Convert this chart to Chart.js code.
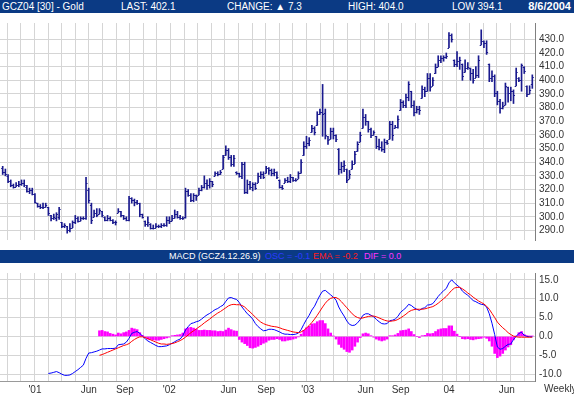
<!DOCTYPE html>
<html>
<head>
<meta charset="utf-8">
<script src="https://cdn.jsdelivr.net/npm/chart.js@4.4.1/dist/chart.umd.min.js"></script>
<style>
  body { margin: 0; background: #fff; font-family: "Liberation Sans", Arial, sans-serif; }
  #wrap { position: relative; width: 574px; height: 396px; overflow: hidden; background: #fff; }
  .bar { position: absolute; left: 0; width: 574px; height: 13px; background: #0b3a84; color: #fff; font-size: 10px; line-height: 13px; }
  .bar span { position: absolute; top: 0; white-space: nowrap; }
  .small { font-size: 9px; }
  canvas { position: absolute; left: 0; }
  #weekly { position: absolute; left: 544px; top: 383px; font-size: 10px; line-height: 12px; color: #333; }
</style>
</head>
<body>
<div id="wrap">
  <div class="bar" style="top:0">
    <span style="left:2px">GCZ04 [30] - Gold</span>
    <span style="left:121px">LAST: 402.1</span>
    <span style="left:227px">CHANGE: ▲ 7.3</span>
    <span style="left:348px">HIGH: 404.0</span>
    <span style="left:452px">LOW 394.1</span>
    <span style="right:3px; font-weight:bold; font-size:11px">8/6/2004</span>
  </div>
  <canvas id="priceChart" width="574" height="237" style="top:13px"></canvas>
  <div class="bar small" style="top:250px">
    <span style="left:169px">MACD (GCZ4.12.26.9)</span>
    <span style="left:265px; color:#2b3bff">OSC = -0.1</span>
    <span style="left:313px; color:#ff1a1a">EMA = -0.2</span>
    <span style="left:364px; color:#ff33ff">DIF = 0.0</span>
  </div>
  <canvas id="macdChart" width="574" height="133" style="top:263px"></canvas>
  <div id="weekly">Weekly</div>
</div>
<script>
// weekly bars, Oct 2000 .. 8/6/2004
var opens = [
  336,333,330,326,323,322,323,324,325,322, 319,320,317,310,308,307,307,307,301,299,
  299,300,296,293,293,290,292,296,299,297, 299,299,320,309,300,303,302,304,300,298,
  299,298,296,303,304,301,299,298,314,312, 311,310,302,297,295,295,292,292,293,293,
  294,294,298,297,299,302,300,299,300,319, 316,312,316,316,320,322,325,323,326,330,
  332,331,335,345,349,344,339,333,332,330, 339,318,324,322,324,325,330,331,332,336,
  334,332,333,327,322,325,327,326,329,327, 328,332,345,352,354,362,365,367,375,377,
  376,359,357,363,360,350,335,337,335,328, 335,339,348,355,365,373,370,364,360,359,
  352,351,350,355,357,368,365,366,378,384, 382,388,392,382,377,379,387,394,392,402,
  396,405,410,415,416,417,424,433,415,412, 414,412,406,409,409,405,402,404,426,429,
  427,412,402,403,391,385,380,382,395,391, 392,396,402,400,410,396,390,397
];
var highs = [
  337,335,331,327,324,325,326,327,327,323, 321,321,317,310,309,310,310,307,301,302,
  303,307,296,295,293,295,297,301,300,300, 300,329,321,310,305,306,306,304,300,301,
  300,298,297,306,304,301,300,315,314,313, 312,310,302,297,300,295,294,295,294,295,
  295,300,300,301,305,304,301,300,321,320, 317,317,316,321,323,330,327,328,326,333,
  333,334,345,352,350,345,345,333,332,340, 340,327,326,325,325,332,333,333,337,336,
  335,335,333,327,323,328,329,331,329,328, 333,342,355,359,358,367,366,377,379,397,
  379,359,365,365,360,350,340,341,335,334, 341,348,355,362,379,375,370,365,363,359,
  357,355,357,356,370,370,367,374,386,385, 390,399,392,385,381,381,396,395,405,405,
  402,412,418,418,418,420,435,434,415,421, 417,412,415,413,409,408,410,418,437,429,
  429,412,407,404,392,386,384,398,395,395, 393,409,402,412,410,396,396,404
];
var lows = [
  331,330,325,322,321,322,322,323,322,318, 317,316,310,307,306,306,307,301,297,298,
  297,298,292,292,288,289,292,295,296,297, 298,298,310,295,300,300,302,300,297,297,
  297,295,294,303,300,298,297,297,310,308, 309,300,299,293,293,291,291,292,292,292,
  293,293,295,297,299,299,298,298,299,315, 311,311,312,316,319,321,320,321,322,330,
  330,331,335,345,342,337,337,331,329,328, 317,317,320,319,320,325,328,328,332,331,
  330,330,328,321,320,325,325,325,326,326, 328,332,345,350,352,362,360,367,375,359,
  357,353,357,357,355,331,332,333,325,328, 335,339,348,355,365,367,362,358,360,350,
  349,348,347,353,357,356,365,365,378,380, 380,385,380,374,376,375,387,388,392,392,
  396,405,410,413,414,416,424,428,410,410, 408,400,406,408,400,398,402,402,426,424,
  419,399,399,388,382,376,379,382,384,385, 383,396,399,392,405,388,390,394.1
];
var closes = [
  333,331,326,323,322,323,324,325,323,319, 320,317,311,308,307,307,309,303,299,300,
  302,306,293,294,290,292,296,299,297,299, 299,325,312,298,303,301,305,301,298,299,
  298,296,296,304,301,299,298,314,312,311, 310,302,300,295,296,292,292,293,293,294,
  294,298,297,299,302,300,299,299,319,316, 312,316,315,320,322,325,323,326,324,332,
  331,333,344,349,344,339,343,332,330,339, 318,324,322,324,321,330,331,329,336,334,
  332,333,329,322,321,327,326,329,327,327, 332,340,352,354,356,365,362,375,377,375,
  360,356,363,360,357,335,337,338,327,331, 339,346,353,360,373,370,364,360,362,352,
  351,350,355,354,368,360,366,372,384,382, 388,397,382,377,379,378,394,392,402,395,
  400,410,415,416,417,418,433,430,412,414, 415,403,409,410,405,400,404,415,429,427,
  421,402,403,391,385,380,381,396,391,392, 389,406,400,411,407,390,393,402.1
];

// MACD (12,26,9)
var macdStart = 17;
var macdLine = [
  -9.8,-9.7,-9.5,-9.3,-9.6,-10.0,-10.3,-10.3,-10.2,-9.8, -9.3,-8.8,-8.2,-7.6,-5.8,-4.4,-4.3,-4.1,-3.9,-3.6,
  -3.3,-3.3,-3.2,-3.2,-3.2,-3.1,-2.2,-2.1,-2.0,-1.5, -0.5,0.8,1.1,1.3,0.8,0.1,-0.6,-1.2,-1.6,-2.0,
  -2.4,-2.7,-2.7,-2.6,-2.5,-2.2,-1.8,-1.4,-1.0,-0.7, 0.2,1.7,2.6,3.4,3.6,3.9,4.1,4.6,5.2,5.7,
  6.1,6.6,7.1,7.4,7.9,8.3,9.3,10.2,10.3,10.0, 9.8,9.0,7.8,6.9,6.0,5.4,4.6,3.4,2.6,2.0,
  1.5,1.6,1.9,1.9,1.8,1.5,1.2,0.8,0.6,0.6, 0.5,0.5,0.6,0.9,1.8,3.2,4.5,5.6,7.0,8.0,
  9.5,10.9,12.0,12.2,11.6,11.0,10.4,9.6,7.8,6.5, 5.4,4.1,3.2,2.9,3.0,3.6,4.5,5.6,6.0,6.0,
  5.6,5.2,4.5,3.9,3.4,3.3,3.4,4.2,4.3,4.6, 5.3,6.4,7.0,7.6,8.5,8.2,7.6,7.2,6.9,7.4,
  7.6,8.3,8.4,8.7,9.6,10.6,11.4,12.1,12.7,14.2, 15.0,14.2,13.6,13.0,12.0,11.4,10.9,10.2,9.5,9.2,
  8.8,8.5,8.4,7.8,6.0,3.5,0.5,-2.8,-3.4,-3.2, -2.6,-2.1,-2.0,-0.8,0.0,0.8,1.1,0.3,0.0,-0.1,
  -0.1
];
var signalStart = 36;
var signalLine = [
  -5.0,-4.8,-4.5,-4.2,-3.9,-3.6,-3.3,-3.0,-2.7,-2.4, -2.2,-1.9,-1.3,-0.8,-0.4,-0.1,-0.1,-0.3,-0.6,-0.9,
  -1.2,-1.5,-1.8,-2.0,-2.0,-2.1,-2.0,-1.9,-1.7,-1.4, -1.1,-0.7,-0.2,0.4,1.0,1.5,2.0,2.5,3.0,3.6,
  4.1,4.6,5.2,5.7,6.2,6.6,7.1,7.6,8.1,8.4, 8.5,8.4,8.4,8.2,7.8,7.1,6.5,5.8,5.1,4.4,
  3.8,3.4,3.1,2.9,2.7,2.6,2.5,2.3,2.0,1.8, 1.6,1.4,1.2,1.1,1.0,1.2,1.6,2.2,2.9,3.7,
  4.6,5.6,6.7,7.8,8.8,9.6,10.1,10.3,10.3,9.9, 9.2,8.4,7.6,6.8,6.0,5.4,5.0,4.8,4.9,5.1,
  5.3,5.4,5.4,5.2,4.9,4.6,4.3,4.1,4.0,4.1, 4.2,4.5,4.9,5.4,5.9,6.5,6.9,7.1,7.2,7.2,
  7.2,7.3,7.5,7.7,7.9,8.3,8.8,9.4,10.0,10.6, 11.4,12.2,12.8,13.0,13.0,12.6,12.1,11.5,11.0,10.4,
  9.9,9.4,9.0,8.6,8.0,7.2,6.1,5.0,3.8,3.0, 2.3,1.7,1.0,0.5,0.1,-0.1,-0.2,-0.2,-0.2,-0.2,
  -0.2,-0.2
];
var histogram = [
  1.5,1.6,1.3,1.2,0.8,0.6,0.4,0.9,0.7,1.0, 1.2,1.6,2.2,2.0,1.8,1.0,0.3,-0.3,-0.7,-0.8,
  -0.9,-1.0,-1.0,-0.8,-0.6,-0.4,-0.2,0.2,0.3,0.4, 0.5,0.9,2.0,2.3,2.4,2.2,1.9,1.6,1.6,1.7,
  1.6,1.6,1.5,1.5,1.3,1.4,1.3,1.7,2.2,1.8, 1.5,1.4,-0.8,-1.5,-1.9,-2.4,-3.0,-3.1,-2.9,-2.6,
  -2.2,-1.8,-1.5,-1.0,-0.8,-0.8,-0.6,-0.8,-1.2,-1.2, -1.0,-0.9,-0.7,-0.5,-0.1,0.6,1.6,2.3,2.7,3.3,
  3.4,3.9,4.2,4.2,3.4,2.0,0.9,0.1,-0.7,-2.1, -2.9,-3.4,-4.0,-4.2,-3.6,-2.6,-1.5,-0.3,0.7,0.9,
  0.7,0.2,-0.2,-0.7,-1.0,-1.2,-1.0,-0.7,0.2,0.2, 0.4,0.8,1.5,1.6,1.7,2.0,1.3,0.5,0.0,-0.3,
  0.2,0.3,0.8,0.7,0.8,1.3,1.8,2.0,2.1,2.1, 2.8,2.8,1.4,0.6,0.0,-0.6,-0.7,-0.6,-0.8,-0.9,
  -0.7,-0.6,-0.5,-0.2,-0.5,-1.2,-2.6,-4.5,-5.6,-5.2, -4.5,-3.6,-2.8,-2.2,-0.9,0.1,1.0,1.3,0.5,0.2,
  0.1,0.1
];

var priceTicks = [290, 300, 310, 320, 330, 340, 350, 360, 370, 380, 390, 400, 410, 420, 430];
var macdTicks = [-10, -5, 0, 5, 10, 15];
var monthLabels = ["'01", 'Jun', 'Sep', "'02", 'Jun', 'Sep', "'03", 'Jun', 'Sep', '04', 'Jun'];
var monthWeeks = [12, 32, 45.5, 62, 84, 98, 113.5, 135, 148, 166, 187.5];

Chart.defaults.font.family = '"Liberation Sans", Arial, sans-serif';
Chart.defaults.font.size = 10;
Chart.defaults.color = '#333';

var gridColor = '#d5d5d5';
var barColor = '#1a1a8e';
var nBars = closes.length;

function gridTicks(scale) {
    var t = [];
    for (var v = 1.7; v < nBars; v += 5.06) t.push({ value: v });
    scale.ticks = t;
}

function xGrid() {
    return {
        type: 'linear',
        min: -1,
        max: nBars,
        offset: false,
        grid: { color: gridColor, drawTicks: false, offset: false },
        border: { display: false },
        ticks: { display: false },
        afterBuildTicks: gridTicks,
        afterFit: function (s) { s.height = 0; }
    };
}

// open/close ticks on the high-low bars
var ohlcTicks = {
    id: 'ohlcTicks',
    afterDatasetsDraw: function (chart) {
        var ctx = chart.ctx, x = chart.scales.x, y = chart.scales.y;
        ctx.save();
        ctx.strokeStyle = barColor;
        ctx.lineWidth = 1;
        ctx.beginPath();
        for (var i = 0; i < nBars; i++) {
            var px = x.getPixelForValue(i);
            var po = Math.round(y.getPixelForValue(opens[i])) + 0.5;
            var pc = Math.round(y.getPixelForValue(closes[i])) + 0.5;
            ctx.moveTo(px - 1.5, po); ctx.lineTo(px, po);
            ctx.moveTo(px, pc); ctx.lineTo(px + 1.5, pc);
        }
        ctx.stroke();
        ctx.restore();
    }
};

new Chart(document.getElementById('priceChart'), {
    type: 'bar',
    data: {
        datasets: [{
            data: highs.map(function (h, i) { return { x: i, y: [lows[i], h] }; }),
            backgroundColor: barColor,
            barThickness: 1,
            grouped: false
        }]
    },
    options: {
        responsive: false,
        animation: false,
        events: [],
        layout: { padding: 0 },
        plugins: { legend: { display: false }, tooltip: { enabled: false } },
        scales: {
            x: xGrid(),
            y: {
                position: 'right',
                min: 283,
                max: 442,
                afterBuildTicks: function (s) { s.ticks = priceTicks.map(function (v) { return { value: v }; }); },
                afterFit: function (s) { s.width = 39; },
                grid: { color: gridColor, drawTicks: false },
                border: { color: '#808080', width: 1 },
                ticks: { padding: 4, color: '#333', callback: function (v) { return v.toFixed(1); } }
            }
        }
    },
    plugins: [ohlcTicks]
});

new Chart(document.getElementById('macdChart'), {
    type: 'bar',
    data: {
        datasets: [{
            type: 'line',
            data: macdLine.map(function (v, k) { return { x: macdStart + k, y: v }; }),
            borderColor: '#0000ff',
            borderWidth: 1,
            pointRadius: 0,
            order: 1
        }, {
            type: 'line',
            data: signalLine.map(function (v, k) { return { x: signalStart + k, y: v }; }),
            borderColor: '#ff0000',
            borderWidth: 1,
            pointRadius: 0,
            order: 0
        }, {
            type: 'bar',
            data: histogram.map(function (v, k) { return { x: signalStart + k, y: v }; }),
            backgroundColor: '#ff00ff',
            barThickness: 2,
            grouped: false,
            order: 2
        }]
    },
    options: {
        responsive: false,
        animation: false,
        events: [],
        layout: { padding: 0 },
        plugins: { legend: { display: false }, tooltip: { enabled: false } },
        scales: {
            x: xGrid(),
            x2: {
                type: 'linear',
                position: 'bottom',
                min: -1,
                max: nBars,
                offset: false,
                grid: { display: false, drawTicks: false, offset: false },
                border: { color: '#9a9a9a' },
                afterBuildTicks: function (s) { s.ticks = monthWeeks.map(function (v) { return { value: v }; }); },
                afterFit: function (s) { s.height = 15; s.paddingLeft = 0; s.paddingRight = 0; },
                ticks: {
                    padding: 3,
                    autoSkip: false,
                    maxRotation: 0,
                    color: '#333',
                    callback: function (v, idx) { return monthLabels[idx]; }
                }
            },
            y: {
                position: 'right',
                min: -11.8,
                max: 16.8,
                afterBuildTicks: function (s) { s.ticks = macdTicks.map(function (v) { return { value: v }; }); },
                afterFit: function (s) { s.width = 39; },
                grid: { color: gridColor, drawTicks: false },
                border: { color: '#808080', width: 1 },
                ticks: { padding: 4, color: '#333', callback: function (v) { return v.toFixed(1); } }
            }
        }
    }
});
</script>
</body>
</html>
